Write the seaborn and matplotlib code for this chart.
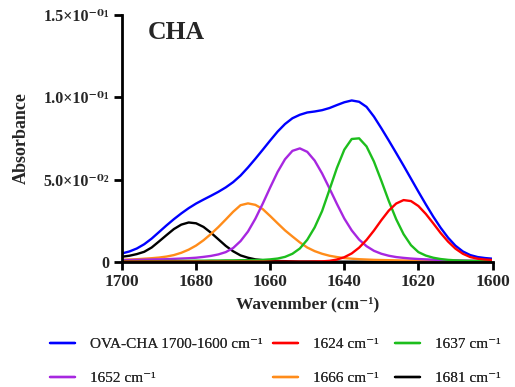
import numpy as np
import pandas as pd
import matplotlib
matplotlib.use("Agg")
import matplotlib.pyplot as plt
import seaborn as sns

wavenumber = [1700, 1698, 1696, 1694, 1692, 1690, 1688, 1686, 1684, 1682,
              1680, 1678, 1676, 1674, 1672, 1670, 1668, 1666, 1664, 1662,
              1660, 1658, 1656, 1654, 1652, 1650, 1648, 1646, 1644, 1642,
              1640, 1638, 1636, 1634, 1632, 1630, 1628, 1626, 1624, 1622,
              1620, 1618, 1616, 1614, 1612, 1610, 1608, 1606, 1604, 1602, 1600]

ova_cha = [0.0052, 0.0064, 0.0082, 0.0108, 0.0142, 0.0182, 0.0222, 0.0260, 0.0295, 0.0327,
           0.0355, 0.0379, 0.0402, 0.0426, 0.0453, 0.0485, 0.0525, 0.0574, 0.0627, 0.0682,
           0.0738, 0.0792, 0.0838, 0.0873, 0.0894, 0.0908, 0.0914, 0.0922, 0.0935, 0.0953,
           0.0970, 0.0981, 0.0973, 0.0942, 0.0883, 0.0812, 0.0738, 0.0662, 0.0585, 0.0506,
           0.0427, 0.0350, 0.0276, 0.0208, 0.0148, 0.0099, 0.0064, 0.0042, 0.0030, 0.0024, 0.0020]

band_1681 = [0.0032, 0.0038, 0.0048, 0.0062, 0.0088, 0.0125, 0.0163, 0.0200, 0.0227, 0.0240,
             0.0235, 0.0213, 0.0178, 0.0138, 0.0098, 0.0065, 0.0040, 0.0026, 0.0016, 0.0011,
             0.0008, 0.0006, 0.0005, 0.0004, 0.0003, 0.0003, 0.0003, 0.0002, 0.0002, 0.0002,
             0.0002, 0.0002, 0.0002, 0.0002, 0.0002, 0.0002, 0.0002, 0.0002, 0.0002, 0.0002,
             0.0002, 0.0002, 0.0002, 0.0002, 0.0002, 0.0002, 0.0002, 0.0002, 0.0002, 0.0002, 0.0002]

band_1666 = [0.0013, 0.0015, 0.0017, 0.0020, 0.0023, 0.0027, 0.0033, 0.0042, 0.0056, 0.0075,
             0.0100, 0.0132, 0.0170, 0.0212, 0.0258, 0.0305, 0.0345, 0.0356, 0.0347, 0.0321,
             0.0279, 0.0235, 0.0192, 0.0155, 0.0119, 0.0088, 0.0066, 0.0050, 0.0038, 0.0030,
             0.0024, 0.0020, 0.0017, 0.0015, 0.0013, 0.0012, 0.0011, 0.0010, 0.0009, 0.0009,
             0.0008, 0.0008, 0.0007, 0.0007, 0.0007, 0.0006, 0.0006, 0.0006, 0.0005, 0.0005, 0.0005]

band_1652 = [0.0011, 0.0012, 0.0013, 0.0014, 0.0015, 0.0016, 0.0017, 0.0019, 0.0021, 0.0023,
             0.0026, 0.0031, 0.0037, 0.0046, 0.0060, 0.0085, 0.0127, 0.0185, 0.0263, 0.0355,
             0.0453, 0.0547, 0.0624, 0.0675, 0.0690, 0.0669, 0.0616, 0.0538, 0.0447, 0.0353,
             0.0264, 0.0192, 0.0136, 0.0096, 0.0068, 0.0050, 0.0038, 0.0030, 0.0025, 0.0021,
             0.0018, 0.0016, 0.0014, 0.0012, 0.0011, 0.0010, 0.0009, 0.0008, 0.0008, 0.0007, 0.0007]

band_1637 = [0.0004, 0.0004, 0.0004, 0.0005, 0.0005, 0.0005, 0.0006, 0.0006, 0.0007, 0.0007,
             0.0008, 0.0008, 0.0009, 0.0009, 0.0010, 0.0010, 0.0011, 0.0011, 0.0012, 0.0013,
             0.0016, 0.0021, 0.0031, 0.0050, 0.0082, 0.0135, 0.0210, 0.0309, 0.0439, 0.0571,
             0.0682, 0.0747, 0.0751, 0.0702, 0.0610, 0.0493, 0.0371, 0.0260, 0.0169, 0.0102,
             0.0060, 0.0039, 0.0026, 0.0018, 0.0013, 0.0010, 0.0008, 0.0007, 0.0006, 0.0005, 0.0005]

band_1624 = [0.0002, 0.0002, 0.0002, 0.0002, 0.0002, 0.0002, 0.0002, 0.0002, 0.0002, 0.0002,
             0.0002, 0.0002, 0.0002, 0.0002, 0.0002, 0.0002, 0.0002, 0.0002, 0.0002, 0.0002,
             0.0002, 0.0002, 0.0002, 0.0002, 0.0002, 0.0002, 0.0003, 0.0004, 0.0007, 0.0015,
             0.0029, 0.0052, 0.0087, 0.0134, 0.0191, 0.0254, 0.0312, 0.0355, 0.0376, 0.0370,
             0.0340, 0.0292, 0.0235, 0.0176, 0.0124, 0.0081, 0.0050, 0.0030, 0.0020, 0.0015, 0.0012]

series_labels = ["OVA-CHA 1700-1600 cm\u207b\u00b9", "1681 cm\u207b\u00b9", "1666 cm\u207b\u00b9",
                 "1652 cm\u207b\u00b9", "1637 cm\u207b\u00b9", "1624 cm\u207b\u00b9"]
series_values = [ova_cha, band_1681, band_1666, band_1652, band_1637, band_1624]
series_colors = ["#0000FF", "#000000", "#FF8C1A", "#A727E0", "#1DBE1D", "#FF0000"]

y_ticks = [0, 0.05, 0.10, 0.15]
y_tick_labels = ["0", "5.0\u00d710\u207b\u2070\u00b2", "1.0\u00d710\u207b\u2070\u00b9", "1.5\u00d710\u207b\u2070\u00b9"]
x_ticks = [1700, 1680, 1660, 1640, 1620, 1600]
x_tick_labels = ["1700", "1680", "1660", "1640", "1620", "1600"]

frames = []
for lab, vals in zip(series_labels, series_values):
    frames.append(pd.DataFrame({"wavenumber": wavenumber, "absorbance": vals, "series": lab}))
df = pd.concat(frames, ignore_index=True)

sns.set_style("ticks")
plt.rcParams["font.family"] = ["Liberation Serif", "DejaVu Serif"]

fig = plt.figure(figsize=(5.15, 3.87), dpi=100)
ax = fig.add_axes([122 / 515, 1 - 262 / 387, 370.5 / 515, 247 / 387])

sns.lineplot(data=df, x="wavenumber", y="absorbance", hue="series",
             hue_order=series_labels, palette=series_colors, linewidth=1.7,
             legend=False, ax=ax, sort=False)

ax.set_xlim(1700, 1600)
ax.set_ylim(0, 0.15)
ax.set_xticks(x_ticks)
ax.set_xticklabels(x_tick_labels, fontsize=12.5, fontweight="bold")
ax.set_yticks(y_ticks)
ax.set_yticklabels(y_tick_labels, fontsize=11.5, fontweight="bold")
for s in ["top", "right"]:
    ax.spines[s].set_visible(False)
for s in ["left", "bottom"]:
    ax.spines[s].set_linewidth(2)
    ax.spines[s].set_color("black")
ax.tick_params(axis="both", width=2, length=6, color="black", pad=3)
ax.set_xlabel("Wavenmber (cm\u207b\u00b9)", fontsize=12.5, fontweight="bold", labelpad=4)
ax.set_ylabel("Absorbance", fontsize=13, fontweight="bold", labelpad=10)
ax.text(0.07, 0.93, "CHA", transform=ax.transAxes, fontsize=18.5, fontweight="bold",
        va="center", ha="left")

lines = ax.get_lines()
line_map = {lab: ln for lab, ln in zip(series_labels, lines)}
columns = [
    ([series_labels[0], series_labels[3]], 42),
    ([series_labels[5], series_labels[2]], 265),
    ([series_labels[4], series_labels[1]], 387),
]
for labs, xpix in columns:
    leg = fig.legend([line_map[l] for l in labs], labs, ncol=1, loc="upper left",
                     bbox_to_anchor=(xpix / 515, 1 - 330 / 387), frameon=False, fontsize=11,
                     handlelength=1.65, handletextpad=1.0, labelspacing=1.3, borderpad=0)
    fig.add_artist(leg)

fig.savefig("out.png", dpi=100)
